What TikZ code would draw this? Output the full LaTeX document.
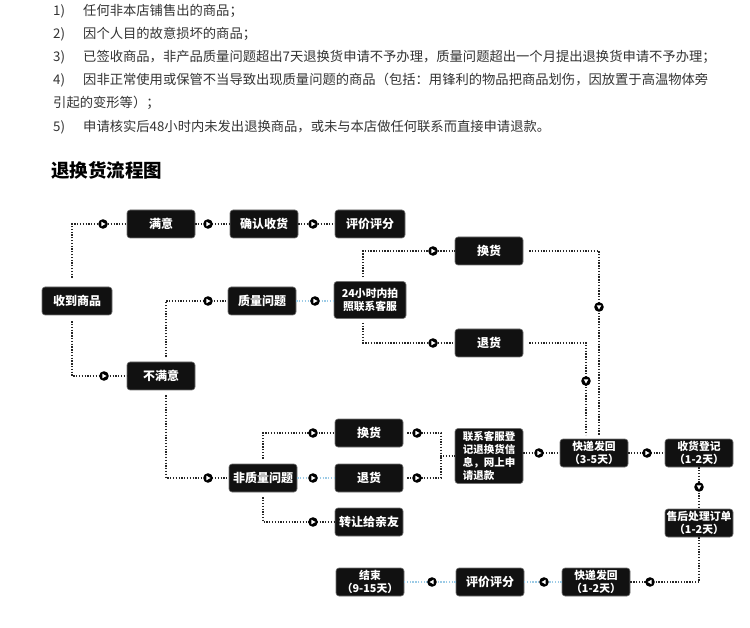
\documentclass[tikz,border=0pt]{standalone}
\usepackage{fontspec}
\setmainfont{Noto Sans CJK SC}
\definecolor{txtgray}{HTML}{333333}
\definecolor{lblue}{HTML}{9CCBE6}
\definecolor{boxblack}{HTML}{111111}
\begin{document}
\begin{tikzpicture}[x=1pt,y=-1pt,
  box/.style={fill=boxblack, draw=black!55, line width=0.6pt, rounded corners=3pt, text=white,
    font=\bfseries\fontsize{12}{14}\selectfont, minimum width=68pt, minimum height=28pt, inner sep=1pt, align=center},
  smallbox/.style={box, font=\bfseries\fontsize{10.8}{12.5}\selectfont},
  dl/.style={line width=1.3pt, dash pattern=on 1.3pt off 1.5pt, black!85},
  bl/.style={line width=1.3pt, dash pattern=on 1.3pt off 1.5pt, lblue},
  mk/.pic={\fill[black] (0,0) circle (4.8); \fill[white] (-1.7,-2.3) -- (2.5,0) -- (-1.7,2.3) -- cycle;},
  listtxt/.style={anchor=west, inner sep=0pt, text=txtgray, font=\fontsize{13.3}{16}\selectfont}
]
\useasboundingbox[fill=white] (0,0) rectangle (750,628);

% ---- top list ----
\node[listtxt] (n1) at (53,11) {1)};
\node[listtxt] (t1) at (83,11) {任何非本店铺售出的商品；};
\node[listtxt] (n2) at (53,34) {2)};
\node[listtxt] (t2) at (83,34) {因个人目的故意损坏的商品；};
\node[listtxt] (n3) at (53,57) {3)};
\node[listtxt] (t3) at (83,57) {已签收商品，非产品质量问题超出7天退换货申请不予办理，质量问题超出一个月提出退换货申请不予办理；};
\node[listtxt] (n4) at (53,80) {4)};
\node[listtxt] (t4) at (83,80) {因非正常使用或保管不当导致出现质量问题的商品（包括：用锋利的物品把商品划伤，因放置于高温物体旁};
\node[listtxt] (t4b) at (53,103) {引起的变形等）；};
\node[listtxt] (n5) at (53,127) {5)};
\node[listtxt] (t5) at (83,127) {申请核实后48小时内未发出退换商品，或未与本店做任何联系而直接申请退款。};

\node[anchor=west, inner sep=0pt, font=\bfseries\fontsize{18.5}{20}\selectfont] (title) at (51,170) {退换货流程图};

% ---- boxes ----
\node[box, minimum width=70pt] (recv) at (77,301) {收到商品};
\node[box] (sat) at (161,224) {满意};
\node[box] (conf) at (264,224) {确认收货};
\node[box, minimum width=70pt] (eval1) at (370,224) {评价评分};
\node[box] (quality) at (262,301) {质量问题};
\node[smallbox, minimum width=72pt, minimum height=37pt] (c24) at (370,300) {24小时内拍\\照联系客服};
\node[box] (unsat) at (161,376) {不满意};
\node[box] (xh1) at (489,251) {换货};
\node[box] (th1) at (489,343) {退货};
\node[box] (nonq) at (263,478) {非质量问题};
\node[box] (xh2) at (369,433) {换货};
\node[box] (th2) at (369,478) {退货};
\node[box] (zr) at (369,522) {转让给亲友};
\node[smallbox, minimum height=55pt, align=left, font=\bfseries\fontsize{10.5}{13.3}\selectfont] (lx) at (489,456) {联系客服登\\记退换货信\\息，网上申\\请退款};
\node[smallbox] (kd1) at (594,453) {快递发回\\（3-5天）};
\node[smallbox] (shdj) at (699,453) {收货登记\\（1-2天）};
\node[smallbox] (shcl) at (699,523) {售后处理订单\\（1-2天）};
\node[smallbox] (kd2) at (596,582) {快递发回\\（1-2天）};
\node[box] (eval2) at (490,582) {评价评分};
\node[smallbox] (end) at (370,582) {结束\\（9-15天）};

% ---- connectors ----
\draw[dl, shorten <=9pt] ([xshift=-5pt]recv.north) |- (sat.west);
\pic at (103,224) {mk};
\draw[dl, shorten <=6pt] ([xshift=-5pt]recv.south) |- (unsat.west);
\pic at (104,376) {mk};
\draw[dl] (sat) -- (conf);
\pic at (208,224) {mk};
\draw[dl] (conf) -- (eval1);
\pic at (313,224) {mk};
\draw[dl, shorten <=5pt] ([xshift=5pt]unsat.north) |- (quality.west);
\pic at (208,301) {mk};
\draw[dl, shorten <=5pt] ([xshift=5pt]unsat.south) |- (nonq.west);
\pic at (208,478) {mk};
\draw[bl] (quality.east) -- (quality.east -| c24.west);
\pic at (315,301) {mk};
\draw[dl, shorten <=4pt] ([xshift=-7pt]c24.north) |- (xh1.west);
\pic at (433,251) {mk};
\draw[dl, shorten <=4pt] ([xshift=-7pt]c24.south) |- (th1.west);
\pic at (433,343) {mk};
\draw[dl, shorten <=6pt, shorten >=4pt] (xh1.east) -| ([xshift=5pt]kd1.north);
\pic[rotate=-90] at (599,307) {mk};
\draw[dl, shorten <=6pt, shorten >=4pt] (th1.east) -| ([xshift=-8pt]kd1.north);
\pic[rotate=-90] at (586,381) {mk};

\draw[dl, shorten <=5pt] (nonq.north) |- (xh2.west);
\pic at (313,433) {mk};
\draw[bl] (nonq) -- (th2);
\pic at (313,478) {mk};
\draw[dl, shorten <=5pt] (nonq.south) |- (zr.west);
\pic at (313,522) {mk};

\coordinate (bj) at (441,456);
\draw[dl, shorten <=4pt] (xh2.east) -| (bj) -- (lx.west);
\draw[dl, shorten <=4pt] (th2.east) -| (bj);
\pic at (417,433) {mk};
\pic at (417,478) {mk};

\draw[dl] (lx.east |- kd1.west) -- (kd1.west);
\pic at (539,453) {mk};
\draw[dl] (kd1) -- (shdj);
\pic at (647,453) {mk};
\draw[dl] (shdj) -- (shcl);
\pic[rotate=-90] at (699,487) {mk};
\draw[dl] (shcl.south) |- (kd2.east);
\pic[rotate=180] at (650,582) {mk};
\draw[bl] (kd2) -- (eval2);
\pic[rotate=180] at (544,582) {mk};
\draw[bl] (eval2) -- (end);
\pic[rotate=180] at (432,582) {mk};
\end{tikzpicture}
\end{document}
